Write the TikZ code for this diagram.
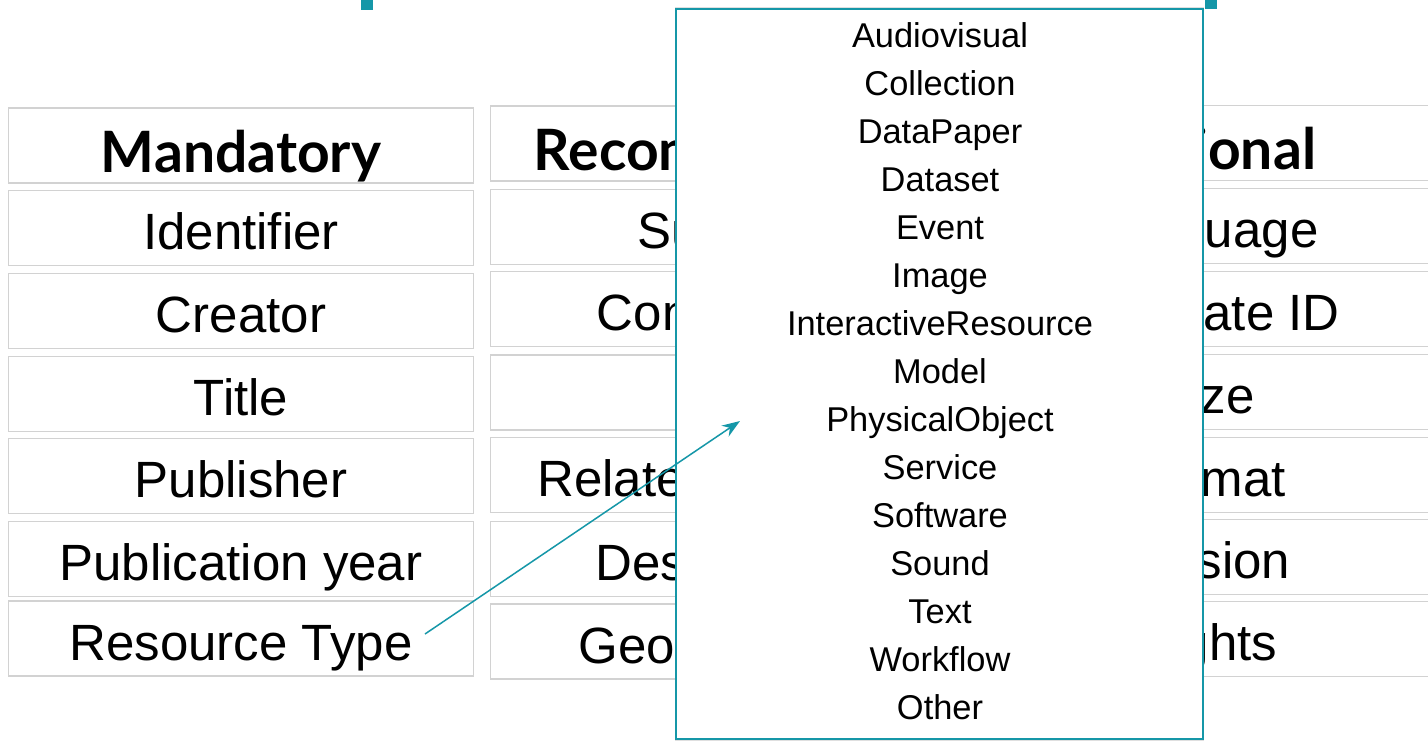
\documentclass[tikz,border=0pt]{standalone}
\usepackage{fontspec}
\setmainfont{Liberation Sans}
\newfontfamily\headfont{Lato}
\usetikzlibrary{arrows.meta,shadows}
\definecolor{teal1}{HTML}{1597A8}
\definecolor{cellgray}{HTML}{D2D2D2}
\tikzset{
  cell/.style={draw=cellgray, line width=1.6pt, fill=white, minimum width=465pt, minimum height=75pt, inner sep=0pt, font=\fontsize{51}{56}\selectfont, text height=50pt, text depth=6.4pt},
  headcell/.style={cell, font=\headfont\bfseries\fontsize{57}{62}\selectfont, text height=60pt, text depth=7pt},
  popup/.style={draw=teal1, line width=2.2pt, fill=white, drop shadow={shadow xshift=0pt, shadow yshift=0pt, opacity=0.25, shadow scale=1.005}},
  item/.style={font=\fontsize{34.4}{38}\selectfont, inner sep=0pt, anchor=center, text height=24.8pt, text depth=0pt},
  conn/.style={draw=teal1, line width=1.5pt, -{Stealth[length=18pt, width=13pt]}},
  topmark/.style={fill=teal1, draw=none}
}
\begin{document}
\begin{tikzpicture}[x=1pt, y=-1pt]
\useasboundingbox (0,0) rectangle (1428,740);
% top marks
\fill[topmark] (361,0) rectangle (373,10);
\fill[topmark] (1205,0) rectangle (1217,9);
% column 1
\node[headcell] (m0) at (241,145.5) {Mandatory};
\node[cell] (m1) at (241,228) {Identifier};
\node[cell] (m2) at (241,311) {Creator};
\node[cell] (m3) at (241,394) {Title};
\node[cell] (m4) at (241,476) {Publisher};
\node[cell] (m5) at (241,559) {Publication year};
\node[cell] (m6) at (241,638.5) {Resource Type};
% column 2
\node[headcell] (r0) at (723,143.5) {Recommended};
\node[cell] (r1) at (723,227) {Subject};
\node[cell] (r2) at (723,309) {Contributor};
\node[cell] (r3) at (723,392.5) {};
\node[cell] (r4) at (723,475) {RelatedIdentifier};
\node[cell] (r5) at (723,559) {Description};
\node[cell] (r6) at (723,641.5) {GeoLocation};
% column 3
\node[headcell] (o0) at (1205,143) {Optional};
\node[cell] (o1) at (1205,226) {Language};
\node[cell] (o2) at (1205,309) {Alternate ID};
\node[cell] (o3) at (1205,392) {Size};
\node[cell] (o4) at (1205,475) {Format};
\node[cell] (o5) at (1205,557) {Version};
\node[cell] (o6) at (1205,639) {Rights};
% popup
\node[popup, minimum width=527pt, minimum height=730pt, inner sep=0pt] (pop) at (939.5,374) {};
\foreach \t [count=\i from 0] in {Audiovisual,Collection,DataPaper,Dataset,Event,Image,InteractiveResource,Model,PhysicalObject,Service,Software,Sound,Text,Workflow,Other}{
  \node[item] (p\i) at (940,{35+48*\i}) {\t};
}
% connector
\coordinate (rtend) at (425,634);
\coordinate (tip) at (740,421);
\draw[conn] (rtend) -- (tip);
\end{tikzpicture}
\end{document}
